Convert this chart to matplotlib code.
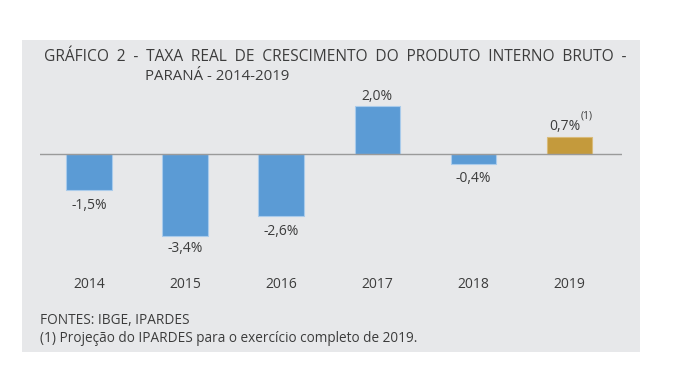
import matplotlib
matplotlib.use("Agg")
import matplotlib.pyplot as plt
from matplotlib.patches import Rectangle

years = ["2014", "2015", "2016", "2017", "2018", "2019"]
values = [-1.5, -3.4, -2.6, 2.0, -0.4, 0.7]
labels = ["-1,5%", "-3,4%", "-2,6%", "2,0%", "-0,4%", "0,7%"]
colors = ["#5b9bd5"] * 5 + ["#c49a3c"]
edges = ["#a9cbeb"] * 5 + ["#d9bb7a"]

plt.rcParams['font.family'] = ['Open Sans', 'DejaVu Sans']
W, H = 677, 385
fig = plt.figure(figsize=(W / 100, H / 100), dpi=100)
fig.patch.set_facecolor("white")

# grey panel
fig.patches.append(Rectangle((22 / W, 1 - 352 / H), (640 - 22) / W, (352 - 40) / H,
                             transform=fig.transFigure, facecolor="#e7e8ea",
                             edgecolor="none", zorder=-5))

tc = "#3c3c3c"
sp = "\u2002"
title1 = sp.join("GRÁFICO 2 - TAXA REAL DE CRESCIMENTO DO PRODUTO INTERNO BRUTO -".split(" "))
fig.text(44 / W, 1 - 57 / H, title1,
         fontsize=11.2, color=tc, va="center", ha="left")
fig.text(145 / W, 1 - 77 / H, "PARANÁ - 2014-2019",
         fontsize=10.8, color=tc, va="center", ha="left")

ax_top, ax_bot = 90, 265
ax = fig.add_axes([40 / W, 1 - ax_bot / H, (622 - 40) / W, (ax_bot - ax_top) / H])
ax.set_zorder(2)
ax.patch.set_visible(False)
x = list(range(len(years)))
ax.bar(x, values, width=0.47, color=colors, edgecolor=edges, linewidth=0.8, zorder=2)
ax.axhline(0, color="#9a9a9a", linewidth=1, zorder=3)
ax.set_xlim(-0.51, 5.55)
upp = 24.0
ax.set_ylim(-(ax_bot - 154) / upp, (154 - ax_top) / upp)
for s in ax.spines.values():
    s.set_visible(False)
ax.set_yticks([])
ax.set_xticks(x)
ax.set_xticklabels(years, fontsize=10, color=tc)
ax.tick_params(axis="x", length=0, pad=9)

for xi, v, lab in zip(x[:5], values[:5], labels[:5]):
    if v < 0:
        off = -9 if v < -3 else -11
        ax.annotate(lab, (xi, v), xytext=(0, off), textcoords="offset points",
                    ha="center", va="center", fontsize=10, color=tc)
    else:
        ax.annotate(lab, (xi, v), xytext=(0, 7), textcoords="offset points",
                    ha="center", va="center", fontsize=10, color=tc)
ax.annotate(labels[5], (x[5], values[5]), xytext=(8, 8), textcoords="offset points",
            ha="right", va="center", fontsize=10, color=tc)
ax.annotate("(1)", (x[5], values[5]), xytext=(8.5, 15), textcoords="offset points",
            ha="left", va="center", fontsize=7.5, color=tc)

fig.text(40 / W, 1 - 321 / H, "FONTES: IBGE, IPARDES", fontsize=9.8, color=tc,
         va="center", ha="left")
fig.text(40 / W, 1 - 338 / H,
         "(1) Projeção do IPARDES para o exercício completo de 2019.",
         fontsize=9.8, color=tc, va="center", ha="left")

fig.savefig("out.png", dpi=100, facecolor="white")
